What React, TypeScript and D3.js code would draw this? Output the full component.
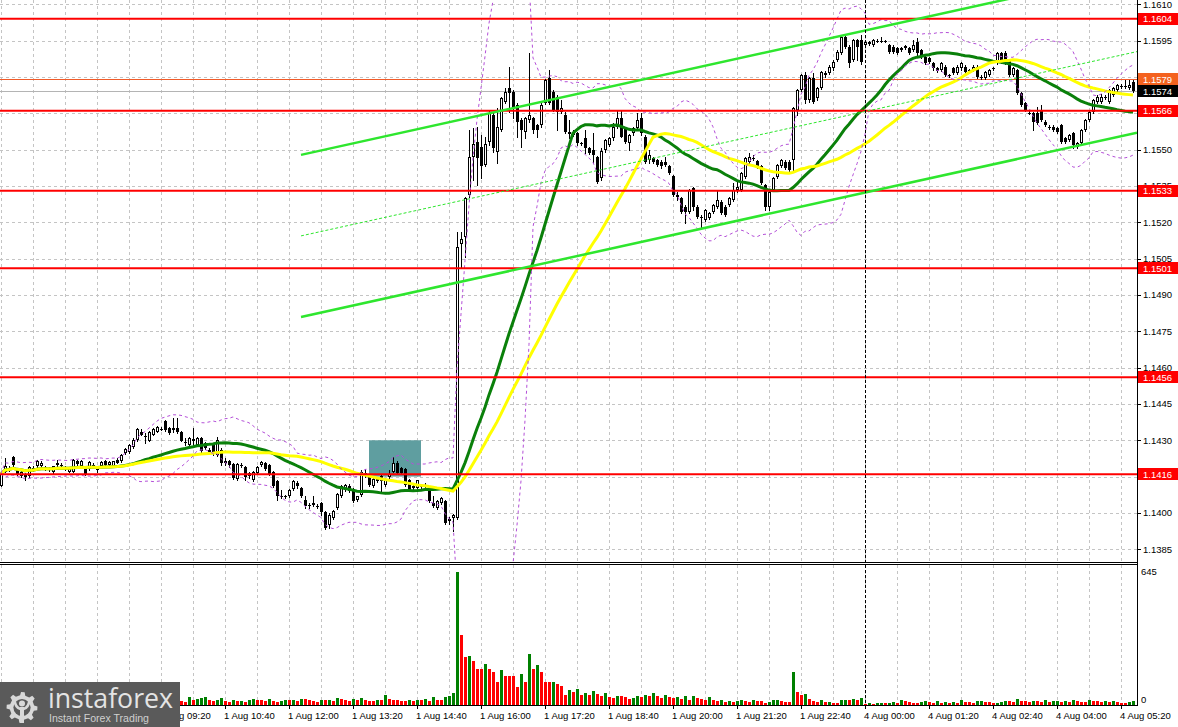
import React from "react";
import * as d3 from "d3";

// EURUSD M5, 1 Aug 06:00 -> 4 Aug 05:35, values in pips above 1.1400
const BASE_PRICE = 1.14;
const PIP = 0.0001;

const OPEN = [
  11.2,17.1,18.3,23,18.2,15.1,16.2,15.1,18.5,19.2,
  19.5,18.9,18.2,16.7,20.6,20,19,17.1,17.1,21.3,
  19.2,18.2,18.1,19.9,18.5,19.2,21.3,19.9,19.2,22,
  21.3,24.7,25,27.4,30.2,33.6,31.6,29.8,32.3,33.6,
  34.8,37.8,35,35,35,33.6,29.2,28.1,29.5,28.1,
  30.9,28.8,26.1,28.1,24,26.1,21.5,21.3,20.2,14,
  19.9,18.8,16.4,13.7,16.4,19.9,20.6,19.9,17.1,13,
  6.8,6.5,6.8,9.8,12.3,10.3,5.4,3.4,4.3,2.8,
  4.1,0.6,-4.9,-2.1,2,6.8,9.3,11.2,9.9,5.4,
  7.5,16.4,15.1,11.2,13,15.1,11.6,14.8,17.1,20.6,
  18.5,18.1,13.7,11.2,10.3,11.6,11,10.3,4.1,2,
  4.1,4.8,-3.5,-2.1,-2.1,111,114.1,131.2,147.1,153.3,
  151.2,143.6,153.3,164.3,149.1,158.1,169.8,175.3,173.9,168.4,
  162.2,157.4,162.2,162.9,160.1,160.1,169.1,179.4,173.9,171.8,
  165.6,164.3,157.4,156,156.7,152.6,154.6,150.5,149.8,147.1,
  138.1,149.8,151.9,154.6,159.5,162.9,158.8,152.6,156.7,158.8,
  162.9,155.3,145.7,146.4,145.7,145,145,143,139.1,131.3,
  129.9,126.4,124.4,134,126.4,122.3,120.9,121.6,124.4,126.4,
  128.5,126.4,127.1,129.2,133.3,133.3,138.8,145,146.4,145.3,
  143,135.4,126.4,133.3,138.8,143,145,145,145.7,166.3,
  174.6,180.8,170.4,179.4,171.1,175.3,181.5,181.5,183.5,187,
  189.7,196.6,192.5,187,195.2,195.2,193.1,193.5,193.1,195,
  194.6,194.9,193.1,192.5,191.8,191.1,191.8,191.8,191.1,194.5,
  191.1,188.3,187.6,185.6,183.5,182.8,184.2,180.8,183.5,181.5,
  183.5,184.2,182.6,182.8,184.2,180.1,179.4,180.8,183.3,185.6,
  189.7,190,187,180.8,182.8,173.2,169.1,165.2,165,165,
  166.3,161.5,159.5,159.5,158.8,160.1,154.6,153.9,156.7,151.2,
  152.6,158.1,162.2,165.6,169.8,169.8,171.8,169.8,172.5,174.6,
  176,176.2,175.3,178
];
const HIGH = [
  16.5,22.6,19.5,23.6,18.5,17.5,16.6,19.2,19.5,22,
  21.5,19.5,18.8,19.5,22,20.5,19.5,19,22.3,22,
  21.8,19,21.5,20.5,19,21.5,21.8,21.5,21.6,22.5,
  24.5,26.8,28.6,31,35,34.5,33,34,35,35.8,
  35.3,38.5,35.5,39.1,39.1,34,30.9,31.3,35,31.3,
  31.3,29.3,26.8,28.8,31.5,27,22.5,21.8,20.6,20.6,
  20.5,19.2,17,17.5,19.2,21.3,21,20.3,17.5,13.4,
  9.6,7.5,10,13.4,13,10.8,6.8,4,6.8,3.5,
  4.5,1,-0.1,1.3,8.3,11.6,12,11.8,10.3,7.2,
  17.8,18.1,15.5,14.4,14.5,15.5,14.5,17.8,23.3,21.5,
  19,18.5,14.1,11.6,13.8,12,12.3,10.7,6.8,5.2,
  6.5,5.2,-1.5,-0.3,116.1,116.1,130.6,158.1,158.8,159.4,
  156,155.3,166,165,167,171.5,175.5,184.2,174.5,169,
  163,163.5,189.7,163.5,160.6,169,179.2,182.8,174.4,172.3,
  170.5,165.5,162.2,158,157.4,153.3,158.1,151,156.7,147.5,
  150.5,154.5,155,160.8,166.3,166.3,159.5,156.5,159.3,165,
  165,156,149.8,147,146.2,145.5,147.1,143.5,139.6,132.6,
  130.4,126.9,133.8,134.7,126.9,122.8,125.5,124.2,127.6,133.3,
  129,126.9,130.4,136.1,136.8,140.7,146.9,148.4,147.8,145.8,
  143.5,135.9,133,138.6,144.1,146.2,145.5,145.5,167.5,175,
  181.3,182.1,180,181.5,175.8,182.6,182.5,184.7,186.8,190.9,
  197,197.3,193,195.7,195.7,197.3,195,194.8,195.7,195.5,
  196.6,195.3,193.6,193,192.3,192.5,193.2,192.2,195.2,195.9,
  191.6,188.8,188,186,184,186,184.7,181.3,184,184.7,
  186,184.7,183.3,184.7,184.7,180.6,182.6,183.3,184,190.2,
  190.4,190.5,187.5,184,183.3,173.7,169.6,165.7,165.5,167.5,
  168.4,162,160,160,159.3,160.6,155,156.5,157.2,153,
  158.6,162.7,166.1,170.9,172.3,173,172.5,175.1,175.8,177.2,
  177,178.5,178.7,178.7
];
const LOW = [
  11,16.7,17.5,19.5,15.8,14.8,13.7,14.8,17.5,18.8,
  19,17.8,17.5,16.3,19.2,18.8,17.8,16.8,16.8,19.8,
  19,15.8,17.8,18.9,16.7,18.9,19.5,19.5,18.9,20.5,
  21,24.3,24.7,27,29.8,32,28.8,29.5,32,33.3,
  34.3,34,32.5,33.6,33,29.5,28.1,27.8,27.5,27.5,
  25,26.3,24.5,24,23.5,20,20,19,14,13.6,
  18.8,13.8,14.5,13,16,19.5,17.8,15.8,10.8,5.5,
  6.1,6,6.5,9.5,10.5,6.4,2,2,2.7,2,
  -0.7,-6.6,-6.2,-2.5,1.6,6.4,9,8.5,4.4,5,
  7.1,15,11.2,10.8,12.6,8.9,11.2,14.4,16.7,16,
  16,11.2,9.2,9.9,9.9,10.3,9.6,4.4,2.6,1.6,
  3.7,-4.6,-4.5,-7.6,-2.5,101.7,105.8,130.5,137.4,135.4,
  138.1,143,152,149,144.3,157.5,169,165.6,162.9,155.3,
  151.2,154.6,161.5,157,155.3,159.5,168.6,168.6,165.8,158.1,
  165,157,154.6,155.5,152,151.9,148.4,148,144.3,136,
  137.4,149,151.5,154,159,155,152.6,149.8,156,158.5,
  156,144.5,144.3,144.5,143,142.5,143,139.8,131,129.2,
  124,119.6,124,125.1,121.8,117.5,120.5,121.2,124,126,
  123.3,122.5,126.7,128.8,132.6,132.9,138.4,144.3,145.7,142.5,
  135.6,125.1,125.1,132.9,138.4,142.6,141.9,141.2,141.6,164.3,
  174.2,169.4,169.8,169,170.5,175,179.9,181,183,186.5,
  189.3,192,184.2,186.5,187,185.4,192.8,193,192.8,194.3,
  194.3,194.3,190,190,189.3,190.7,191.4,189.3,190.7,188.3,
  187.9,185.2,185.8,183,182,182.4,180.4,180.1,181,181,
  183,181.7,182.2,182.4,179.7,179,179,180.4,183,185.2,
  185.9,185.2,180.4,180.4,172.8,168,165.9,164.5,158.1,160.4,
  161.8,159.7,158.3,157.6,157,152.9,152.9,153.5,150.5,150.8,
  152.2,157.7,161.8,165.2,169.4,169.4,171,169.4,172,174.2,
  175.5,175.5,174.9,173.8
];
const CLOSE = [
  16.2,19.2,18.5,19.9,16.2,17.1,14.8,18.8,18.1,21.3,
  20.6,18.2,18,19.2,20,19.2,18.5,18.5,22,20.2,
  21.3,16.2,21,19.2,17.8,21,19.9,20.9,21.3,20.8,
  24,26.3,28.1,30.2,34.6,32.3,31.2,33.6,34.6,35.3,
  34.6,34.3,33,34.3,33.6,29.9,29,30.9,30.7,30.9,
  25.4,26.8,25.1,24.7,30.2,20.6,20.6,19.9,14.4,20.2,
  19.2,14.7,15.1,17.1,18.8,21,18.1,16.2,11.2,6.8,
  6.5,6.8,9.6,13,11,6.8,3,2.7,3.4,2.6,
  0.6,-6.2,-0.7,0.9,7.9,11.2,11.6,8.9,4.8,6.8,
  16.7,15.8,11.6,14,14.1,13,14.1,16.2,20.8,16.4,
  16.4,11.6,9.6,10.3,13.4,10.7,10.9,4.8,3,4.8,
  6.1,-4.2,-2.5,-0.7,109.9,113,129.9,147.1,152.3,146.4,
  143,152.3,165,150.5,159.2,171.1,173.9,173.2,167,161.5,
  158.1,162.9,164.3,158.1,158.1,168.4,178.7,169.1,166.3,165.6,
  167,157.4,156.5,157.4,152.6,152.4,150.5,148.4,147.8,136.8,
  149.5,154,154.6,159.5,162.9,155.3,153.3,156,158.8,162.2,
  156.7,145,147.8,145,143.6,143,143.6,140.2,131.3,130.6,
  124.4,124.4,133.3,126.4,122.3,121.6,125.1,123.7,127.1,129.2,
  123.7,123,129.9,133.3,134.7,140.2,146.4,147.1,146.6,143,
  136.1,126.4,132.6,138.1,143.6,145.7,142.3,141.6,167,174.6,
  180.8,170.4,179.4,169.8,175.3,182.1,180.8,184.2,186.3,190.4,
  196.6,192.5,185.6,195.2,192.5,186,194.5,194.3,195.2,194.6,
  195,194.7,190.4,190.4,189.7,192,192.7,189.7,193.1,189.7,
  188.3,185.6,186.3,183.5,182.5,185.6,180.8,180.6,181.5,184.2,
  185.6,182.1,182.8,184.2,180.1,179.4,182.1,182.8,183.5,189.7,
  186.3,185.6,180.8,183.5,173.2,168.4,166.3,165,161.5,160.8,
  162.2,160.1,158.8,158.1,157.4,153.3,153.3,156,151.9,152.6,
  158.1,162.2,165.6,170.4,171.8,171.8,171.6,174.6,175.3,176.7,
  176.2,176,176.7,174
];
const VOLUME = [
  22,18,25,30,15,20,18,26,14,19,24,17,21,16,28,19,23,15,27,20,18,24,16,22,19,25,17,21,30,18,26,34,28,31,22,25,19,27,21,24,18,29,23,20,26,
  18,14,40,22,30,34,38,24,20,22,32,18,14,26,18,20,
  16,22,30,26,24,20,28,18,16,20,24,22,26,20,30,28,22,18,16,24,
  22,26,20,34,30,24,18,28,22,34,24,20,18,26,22,48,30,24,22,20,
  18,22,20,26,24,28,20,40,26,22,38,42,60,
  645,
  339,235,240,214,177,177,200,175,160,110,172,141,141,141,85,150,110,248,175,195,160,110,110,112,100,90,50,75,62,76,50,
  60,48,66,52,44,58,40,36,46,42,38,30,34,42,38,
  50,44,56,42,34,50,40,34,38,30,46,26,44,34,30,
  26,40,22,18,22,16,20,14,18,24,20,16,22,20,18,12,14,22,26,18,16,14,
  161,
  62,48,52,28,20,16,22,14,16,12,10,24,26,26,28,24,34,
  5,12,4,8,10,8,12,14,10,24,18,14,12,10,16,18,14,12,20,12,
  14,10,16,12,22,16,14,12,18,20,16,14,10,12,14,20,18,14,30,20,
  18,16,20,18,14,24,16,18,20,16,18,14,22,18,16,14,26,20,18,16,20,14,18,16,12,10,14,18
];

// labels at bars 8 (06:40) and 24 (08:00) sit entirely under the logo, so they are not drawn
const TIME_TICK_BARS = [40, 56, 72, 88, 104, 120, 136, 152, 168, 184, 200, 216, 232, 248, 264, 280];
const TIME_TICK_LABELS = [
  "1 Aug 09:20", "1 Aug 10:40", "1 Aug 12:00", "1 Aug 13:20",
  "1 Aug 14:40", "1 Aug 16:00", "1 Aug 17:20", "1 Aug 18:40", "1 Aug 20:00", "1 Aug 21:20",
  "1 Aug 22:40", "4 Aug 00:00", "4 Aug 01:20", "4 Aug 02:40", "4 Aug 04:00", "4 Aug 05:20"
];
const PRICE_TICKS = ["1.1385","1.1400","1.1415","1.1430","1.1445","1.1460","1.1475","1.1490","1.1505","1.1520","1.1535","1.1550","1.1565","1.1580","1.1595","1.1610"];
const LEVELS = [1.1604, 1.1566, 1.1533, 1.1501, 1.1456, 1.1416];
const ORANGE_LEVEL = 1.1579;
const BID = 1.1574;
const VOLUME_TICKS = [0, 645];
const CHANNEL_BARS = [75, 283];
const CHANNEL_UPPER = [1.15478, 1.16235];
const CHANNEL_LOWER = [1.14809, 1.15566];
const ZONE_BARS = [92, 105];
const ZONE_PRICES = [1.1415, 1.143];
const SEPARATOR_BAR = 216;
const MA_FAST = 30;
const MA_SLOW = 50;
const BB_PERIOD = 20;
const BB_DEV = 2;

const FONT = "'Liberation Sans', Arial, sans-serif";
const PLOT_R = 1137;
const MAIN_B = 562;

export default function App() {
  const n = CLOSE.length;
  const p = (v: number) => BASE_PRICE + v * PIP;
  const x = d3.scaleLinear().domain([0, n - 1]).range([1, 1133]);
  const y = d3.scaleLinear().domain([1.1385, 1.1595]).range([549.3, 40.5]);
  const yv = d3.scaleLinear().domain([0, 645]).range([705, 572]);

  const closes = CLOSE.map(p);
  const sma = (per: number) =>
    closes.map((_, i) => d3.mean(closes.slice(Math.max(0, i - per + 1), i + 1)) as number);
  const maFast = sma(MA_FAST);
  const maSlow = sma(MA_SLOW);
  const bands = closes.map((_, i) => {
    const w = closes.slice(Math.max(0, i - BB_PERIOD + 1), i + 1);
    const m = d3.mean(w) as number;
    const sd = Math.sqrt(d3.mean(w, (v) => (v - m) * (v - m)) as number);
    return [m + BB_DEV * sd, m - BB_DEV * sd];
  });

  const line = d3.line<number>().x((_, i) => x(i)).y((d) => y(d));
  const upperBand = line(bands.map((b) => b[0])) || "";
  const lowerBand = line(bands.map((b) => b[1])) || "";

  const chanAt = (vals: number[], bar: number) =>
    vals[0] + ((vals[1] - vals[0]) * (bar - CHANNEL_BARS[0])) / (CHANNEL_BARS[1] - CHANNEL_BARS[0]);
  const endBar = x.invert(PLOT_R);
  const chanLine = (vals: number[]) =>
    d3.line<number>().x((b) => x(b)).y((b) => y(chanAt(vals, b)))([CHANNEL_BARS[0], endBar]) || "";
  const mid = [(CHANNEL_UPPER[0] + CHANNEL_LOWER[0]) / 2, (CHANNEL_UPPER[1] + CHANNEL_LOWER[1]) / 2];

  const gridBars = d3.range(0, n, 8);

  // gear for logo
  const gear = (() => {
    const cx = 22, cy = 707.5, ro = 15.5, ri = 12.3, teeth = 8;
    const pts: [number, number][] = [];
    const step = (2 * Math.PI) / teeth;
    for (let k = 0; k < teeth; k++) {
      const a = k * step - Math.PI / 2 - step * 0.2;
      [[ri, 0], [ro, 0.12], [ro, 0.42], [ri, 0.54]].forEach(([r, f]) => {
        pts.push([cx + r * Math.cos(a + f * step), cy + r * Math.sin(a + f * step)]);
      });
    }
    return "M" + pts.map((q) => q.join(",")).join("L") + "Z";
  })();

  const boxes = [
    ...LEVELS.map((v) => ({ v, fill: "#ff0000", text: v.toFixed(4) })),
    { v: ORANGE_LEVEL, fill: "#f4621f", text: ORANGE_LEVEL.toFixed(4) },
    { v: BID, fill: "#000000", text: BID.toFixed(4) },
  ];

  return (
    <svg width={1178} height={727} style={{ position: "absolute", left: 0, top: 0, background: "#fff" }}
      fontFamily={FONT}>
      <defs>
        <clipPath id="mainClip"><rect x={0} y={0} width={PLOT_R} height={MAIN_B} /></clipPath>
      </defs>
      <rect x={0} y={0} width={1178} height={727} fill="#fff" />

      {/* grid */}
      <g stroke="#c4c4c4" strokeWidth={1} strokeDasharray="3,3" shapeRendering="crispEdges">
        {PRICE_TICKS.map((t) => (
          <line key={t} x1={0} x2={PLOT_R} y1={Math.round(y(+t)) + 0.5} y2={Math.round(y(+t)) + 0.5} />
        ))}
        {gridBars.map((b) => (
          <g key={b}>
            <line x1={Math.round(x(b)) + 0.5} x2={Math.round(x(b)) + 0.5} y1={0} y2={MAIN_B} />
            <line x1={Math.round(x(b)) + 0.5} x2={Math.round(x(b)) + 0.5} y1={565} y2={705} />
          </g>
        ))}
      </g>

      <g clipPath="url(#mainClip)">
        {/* zone rectangle */}
        <rect x={x(ZONE_BARS[0])} y={y(ZONE_PRICES[1])} width={x(ZONE_BARS[1]) - x(ZONE_BARS[0])}
          height={y(ZONE_PRICES[0]) - y(ZONE_PRICES[1])} fill="#5f9ea0" />

        {/* bid / orange line */}
        <line x1={0} x2={PLOT_R} y1={Math.round(y(BID)) + 0.5} y2={Math.round(y(BID)) + 0.5} stroke="#b4b4b4" strokeWidth={1} />
        <line x1={0} x2={PLOT_R} y1={Math.round(y(ORANGE_LEVEL)) + 0.5} y2={Math.round(y(ORANGE_LEVEL)) + 0.5} stroke="#f05a28" strokeWidth={1} />

        {/* candles */}
        <g shapeRendering="crispEdges">
          {CLOSE.map((c, i) => {
            const cx = Math.round(x(i));
            const o = OPEN[i];
            const yo = Math.round(y(p(o)));
            const yc = Math.round(y(p(c)));
            const yh = Math.round(y(p(HIGH[i])));
            const yl = Math.round(y(p(LOW[i])));
            const top = Math.min(yo, yc);
            const bot = Math.max(yo, yc);
            let body;
            if (bot - top < 2) {
              body = <rect x={cx - 1} y={top} width={3} height={1} fill="#000" />;
            } else if (c >= o) {
              body = <rect x={cx - 0.5} y={top + 0.5} width={2} height={bot - top - 1} fill="#fff" stroke="#000" strokeWidth={1} />;
            } else {
              body = <rect x={cx - 1} y={top} width={3} height={bot - top} fill="#000" />;
            }
            return (
              <g key={i}>
                <line x1={cx + 0.5} x2={cx + 0.5} y1={yh} y2={yl + 1} stroke="#000" strokeWidth={1} />
                {body}
              </g>
            );
          })}
        </g>

        {/* moving averages */}
        <path d={line(maFast) || ""} fill="none" stroke="#0a800a" strokeWidth={3} />
        <path d={line(maSlow) || ""} fill="none" stroke="#ffff00" strokeWidth={3} />

        {/* bollinger */}
        <path d={upperBand} fill="none" stroke="#b450d8" strokeWidth={1} strokeDasharray="3,3" />
        <path d={lowerBand} fill="none" stroke="#b450d8" strokeWidth={1} strokeDasharray="3,3" />

        {/* levels */}
        {LEVELS.map((v) => (
          <line key={v} x1={0} x2={PLOT_R} y1={y(v)} y2={y(v)} stroke="#ff0000" strokeWidth={2} />
        ))}

        {/* channel */}
        <path d={chanLine(CHANNEL_UPPER)} stroke="#2ee62e" strokeWidth={2.5} fill="none" />
        <path d={chanLine(CHANNEL_LOWER)} stroke="#2ee62e" strokeWidth={2.5} fill="none" />
        <path d={chanLine(mid)} stroke="#2ee62e" strokeWidth={1} strokeDasharray="3,2" fill="none" />
      </g>

      {/* separator */}
      <line x1={Math.round(x(SEPARATOR_BAR)) + 0.5} x2={Math.round(x(SEPARATOR_BAR)) + 0.5} y1={0} y2={705}
        stroke="#000" strokeWidth={1} strokeDasharray="3,2" shapeRendering="crispEdges" />

      {/* volume */}
      <g shapeRendering="crispEdges">
        {VOLUME.map((v, i) => {
          const up = i === 0 ? true : v > VOLUME[i - 1];
          const cx = Math.round(x(i));
          const top = Math.round(yv(v));
          return <rect key={i} x={cx - 1} y={top} width={3} height={Math.max(1, 705 - top)} fill={up ? "#008000" : "#ff0000"} />;
        })}
      </g>

      {/* frames */}
      <g stroke="#000" strokeWidth={1} shapeRendering="crispEdges">
        <line x1={0} x2={PLOT_R} y1={MAIN_B + 0.5} y2={MAIN_B + 0.5} />
        <line x1={0} x2={PLOT_R} y1={564.5} y2={564.5} />
        <line x1={0} x2={PLOT_R} y1={705.5} y2={705.5} />
        <line x1={PLOT_R + 0.5} x2={PLOT_R + 0.5} y1={0} y2={706} />
        {PRICE_TICKS.map((t) => (
          <line key={t} x1={PLOT_R} x2={PLOT_R + 4} y1={Math.round(y(+t)) + 0.5} y2={Math.round(y(+t)) + 0.5} />
        ))}
        {TIME_TICK_BARS.map((b) => (
          <line key={b} x1={Math.round(x(b)) + 0.5} x2={Math.round(x(b)) + 0.5} y1={705} y2={709} />
        ))}
      </g>

      {/* price labels */}
      <g fontSize={9.5} fill="#000">
        {PRICE_TICKS.map((t) => (
          <text key={t} x={1143} y={Math.max(y(+t), 5)} dy="0.35em">{t}</text>
        ))}
        {VOLUME_TICKS.map((v) => (
          <text key={v} x={1141} y={v === 0 ? 700 : 572} dy="0.35em">{v}</text>
        ))}
        {TIME_TICK_BARS.map((b, k) => (
          <text key={b} x={x(b) - 1} y={719}>{TIME_TICK_LABELS[k]}</text>
        ))}
      </g>

      {/* level boxes */}
      {boxes.map((bx) => (
        <g key={bx.text + bx.fill}>
          <rect x={1138} y={Math.round(y(bx.v)) - 6} width={40} height={12} fill={bx.fill} />
          <text x={1143} y={y(bx.v)} dy="0.35em" fontSize={9.5} fill="#fff">{bx.text}</text>
        </g>
      ))}

      {/* logo */}
      <g>
        <rect x={0} y={682} width={180} height={45} fill="#5a5a5a" />
        <path d={gear} fill="#d8d8d8" />
        <circle cx={22} cy={707.5} r={8.6} fill="#5a5a5a" />
        <circle cx={22} cy={703.5} r={3} fill="#d8d8d8" />
        <rect x={20} y={707} width={4} height={16} fill="#d8d8d8" />
        <path d="M14.5,700 Q15.5,708 20.5,709 M29.5,700 Q28.5,708 23.5,709" stroke="#d8d8d8" strokeWidth={2.6} fill="none" />
        <text x={48} y={708} fontFamily="'Open Sans', 'Noto Sans', sans-serif" fontSize={27} fill="#e4e4e4"
          textLength={125} lengthAdjust="spacingAndGlyphs">instaforex</text>
        <text x={49} y={722} fontFamily={FONT} fontSize={10.5} fill="#d0d0d0"
          textLength={100} lengthAdjust="spacingAndGlyphs">Instant Forex Trading</text>
      </g>
    </svg>
  );
}
